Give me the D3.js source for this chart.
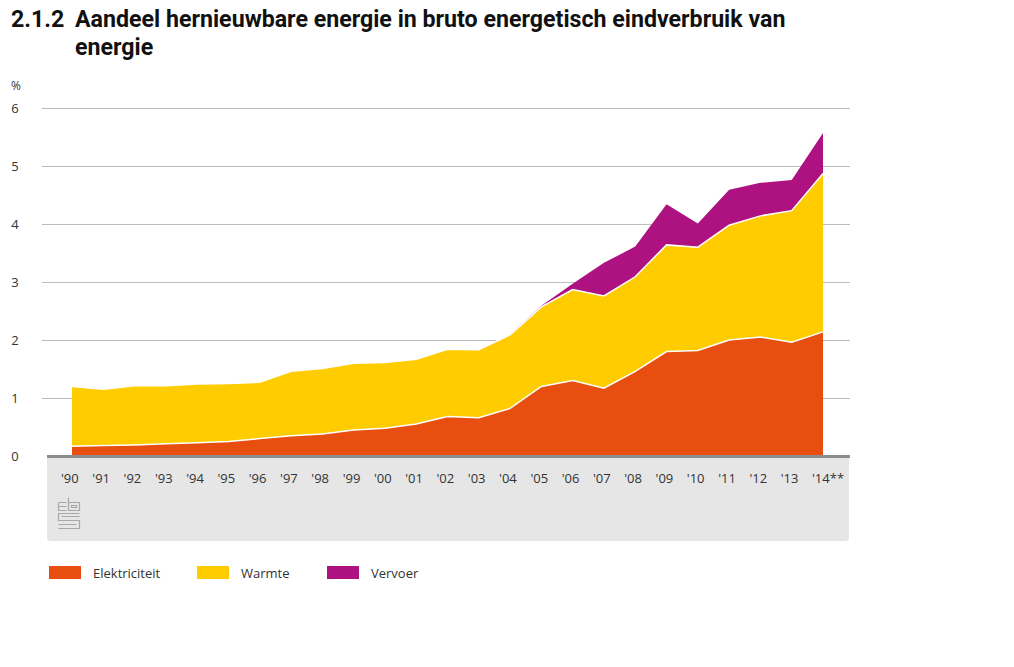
<!DOCTYPE html>
<html lang="nl">
<head>
<meta charset="UTF-8">
<title>Aandeel hernieuwbare energie</title>
<script src="https://d3js.org/d3.v7.min.js"></script>
<style>
  body { margin: 0; background: #fff; }
  text { font-family: "Open Sans", "DejaVu Sans", sans-serif; fill: #333; }
  .title { font-family: "Roboto", sans-serif; font-weight: bold; font-size: 23.2px; fill: #111; }
  .tick { font-size: 13px; }
</style>
</head>
<body>
<svg width="1014" height="667"></svg>
<script>
// years and tick labels
const years = d3.range(1990, 2015);
const yearLabels = ["'90","'91","'92","'93","'94","'95","'96","'97","'98","'99","'00","'01","'02",
                    "'03","'04","'05","'06","'07","'08","'09","'10","'11","'12","'13","'14**"];
const yTicks = [0, 1, 2, 3, 4, 5, 6];

// series values (% of gross final energy consumption)
const elektriciteit = [0.17,0.18,0.19,0.21,0.23,0.25,0.30,0.35,0.38,0.45,0.48,0.55,0.68,
                       0.66,0.82,1.20,1.30,1.17,1.46,1.80,1.82,2.00,2.05,1.96,2.14];
const warmte        = [1.03,0.97,1.02,1.00,1.01,1.00,0.97,1.11,1.13,1.15,1.13,1.12,1.16,
                       1.17,1.27,1.37,1.57,1.59,1.63,1.84,1.78,1.98,2.09,2.27,2.73];
const vervoer       = [0,0,0,0,0,0,0,0,0,0,0,0,0,
                       0,0.01,0.02,0.10,0.57,0.52,0.70,0.41,0.61,0.57,0.53,0.70];

const seriesNames = ["Elektriciteit", "Warmte", "Vervoer"];
const colors = ["#e84e10", "#ffcc00", "#ae1281"];

const svg = d3.select("svg");

// title
const title = svg.append("text").attr("class", "title").attr("y", 27);
title.append("tspan").attr("x", 11).text("2.1.2");
title.append("tspan").attr("x", 75).text("Aandeel hernieuwbare energie in bruto energetisch eindverbruik van");
svg.append("text").attr("class", "title").attr("x", 75).attr("y", 55).text("energie");

// scales
const x = d3.scaleLinear().domain([1990, 2014]).range([72, 823]);
const y = d3.scaleLinear().domain([0, 6]).range([456, 108]);

// grey panel under the axis
svg.append("path")
    .attr("d", "M47,457 H849 V537 Q849,541 845,541 H51 Q47,541 47,537 Z")
    .attr("fill", "#e6e6e6");

// gridlines + y labels
svg.append("g").selectAll("line")
    .data(yTicks.filter(d => d > 0))
    .join("line")
    .attr("x1", 42).attr("x2", 850)
    .attr("y1", d => y(d) + 0.5).attr("y2", d => y(d) + 0.5)
    .attr("stroke", "#bdbdbd").attr("stroke-width", 1);

svg.append("g").selectAll("text")
    .data(yTicks)
    .join("text")
    .attr("class", "tick")
    .attr("x", 15).attr("y", d => y(d) + 5)
    .attr("text-anchor", "middle")
    .text(d => d);

svg.append("text").attr("class", "tick").attr("x", 11).attr("y", 90)
    .style("font-size", "12px").text("%");

// stacked data
const table = years.map((yr, i) => ({
    year: yr,
    Elektriciteit: elektriciteit[i],
    Warmte: warmte[i],
    Vervoer: vervoer[i]
}));
const stacked = d3.stack().keys(seriesNames)(table);

const area = d3.area()
    .x(d => x(d.data.year))
    .y0(d => y(d[0]))
    .y1(d => y(d[1]));

svg.append("g").selectAll("path")
    .data(stacked)
    .join("path")
    .attr("d", area)
    .attr("fill", (d, i) => colors[i]);

// white separators between layers
const topLine = d3.line()
    .x(d => x(d.data.year))
    .y(d => y(d[1]));

svg.append("g").selectAll("path")
    .data(stacked.slice(0, 2))
    .join("path")
    .attr("d", topLine)
    .attr("fill", "none")
    .attr("stroke", "#fff")
    .attr("stroke-width", 1.5);

// baseline
svg.append("line")
    .attr("x1", 47).attr("x2", 850)
    .attr("y1", y(0) + 0.5).attr("y2", y(0) + 0.5)
    .attr("stroke", "#8c8c8c").attr("stroke-width", 3);

// x labels
svg.append("g").selectAll("text")
    .data(years)
    .join("text")
    .attr("class", "tick")
    .attr("x", d => x(d) - 11)
    .attr("y", 483)
    .text((d, i) => yearLabels[i]);

// cbs logo
const logo = svg.append("g")
    .attr("fill", "none").attr("stroke", "#a8a8a8").attr("stroke-width", 1.2);
logo.append("path").attr("d", "M58.5,502.5 H66.5 M58.5,502.5 V510.5 H66.5 M58.5,506.5 H66.5");
logo.append("path").attr("d", "M68.5,497.5 V510.5 H79.5 V502.5 H68.5 M71.5,505.5 H76.5 V507.5 H71.5 Z");
logo.append("path").attr("d", "M79.5,513.5 H58.5 V520.5 H79.5 V528.5 H58.5 M61.5,516.5 H79.5 M58.5,524.5 H76.5");

// legend
const legend = svg.append("g").selectAll("g")
    .data(seriesNames)
    .join("g")
    .attr("transform", (d, i) => `translate(${[49, 197, 327][i]},566)`);
legend.append("rect")
    .attr("width", 32).attr("height", 13)
    .attr("fill", (d, i) => colors[i]);
legend.append("text")
    .attr("class", "tick")
    .attr("x", 44).attr("y", 12)
    .text(d => d);
</script>
</body>
</html>
